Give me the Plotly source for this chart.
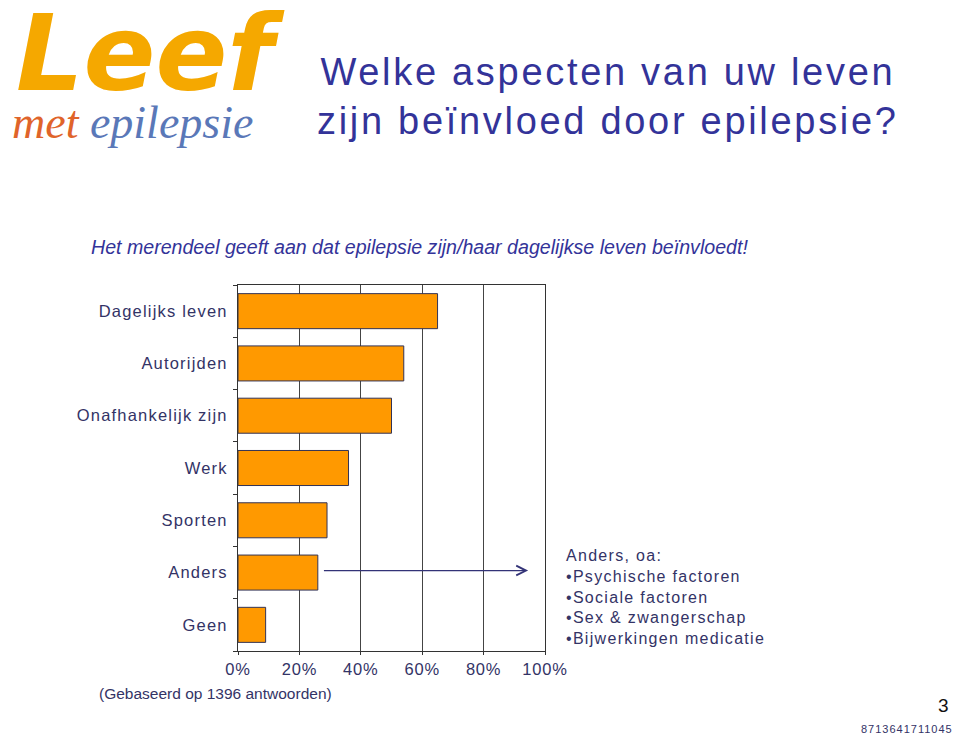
import plotly.graph_objects as go

categories = ["Dagelijks leven", "Autorijden", "Onafhankelijk zijn", "Werk", "Sporten", "Anders", "Geen"]
values = [65, 54, 50, 36, 29, 26, 9]
x_ticks = [0, 20, 40, 60, 80, 100]
x_tick_labels = ["0%", "20%", "40%", "60%", "80%", "100%"]
anders_items = ["Psychische factoren", "Sociale factoren", "Sex &amp; zwangerschap", "Bijwerkingen medicatie"]

NAVY = "#333366"
BLUE = "#333399"
FONT = "Liberation Sans, Arial, sans-serif"

# page body has an 8px offset; figure sized to fit the window
OFF = 8
W, H = 952, 727
L, R, T, B = 238 - OFF, W - (545 - OFF), 285 - OFF, H - (651 - OFF)
PW, PH = W - L - R, H - T - B


def px(xp):
    return (xp - OFF - L) / PW


def py(yp):
    return 1 - (yp - OFF - T) / PH


def spaced(s, ls):
    return "<span style='letter-spacing:%spx'>%s</span>" % (ls, s)


fig = go.Figure()
fig.add_trace(go.Bar(
    y=categories, x=values, orientation="h",
    marker=dict(color="#FF9900", line=dict(color="#333355", width=1)),
    width=0.67, hoverinfo="skip",
))

fig.update_layout(
    width=W, height=H, autosize=False,
    margin=dict(l=L, r=R, t=T, b=B),
    paper_bgcolor="white", plot_bgcolor="white",
    showlegend=False,
    font=dict(family=FONT, color=NAVY),
    xaxis=dict(
        range=[0, 100], tickmode="array", tickvals=x_ticks,
        ticktext=[spaced(t, 0.8) for t in x_tick_labels],
        showgrid=True, gridcolor="#444444", gridwidth=1,
        showline=True, linecolor="#333333", linewidth=1, mirror=True,
        ticks="outside", ticklen=3, tickcolor="#333333",
        tickfont=dict(size=16.5, color=NAVY, family=FONT),
        zeroline=False, fixedrange=True,
    ),
    yaxis=dict(
        categoryorder="array", categoryarray=categories, autorange="reversed",
        tickmode="array", tickvals=categories,
        ticktext=[spaced(c, 1.2) for c in categories],
        tickson="boundaries", ticks="outside", ticklen=4, tickcolor="#333333",
        showgrid=False, showline=True, linecolor="#333333", linewidth=1, mirror=True,
        tickfont=dict(size=16.5, color=NAVY, family=FONT),
        ticklabelstandoff=6, fixedrange=True,
    ),
)

# Arrow from Anders bar to the explanation box
fig.add_annotation(
    x=94.5, y="Anders", ax=27.5, ay="Anders", xref="x", yref="y", axref="x", ayref="y",
    text="", showarrow=True, arrowhead=5, arrowsize=1.6, arrowwidth=1.2, arrowcolor="#333377",
    yshift=2,
)

# Logo
fig.add_annotation(xref="paper", yref="paper", x=px(14), y=py(54),
                   xanchor="left", yanchor="middle", showarrow=False,
                   text="<b><i>Leef</i></b>",
                   font=dict(family="DejaVu Sans, sans-serif", size=106, color="#F5A800"))
fig.add_annotation(xref="paper", yref="paper", x=px(10), y=py(123),
                   xanchor="left", yanchor="middle", showarrow=False,
                   text="<i><span style='color:#E0642A'>met</span> epilepsie</i>",
                   font=dict(family="Liberation Serif, serif", size=46, color="#5A78B8"))

# Title
fig.add_annotation(xref="paper", yref="paper", x=px(608), y=py(97),
                   xanchor="center", yanchor="middle", showarrow=False,
                   text=spaced("Welke aspecten van uw leven", 2.7) + "<br>"
                   + spaced("zijn beïnvloed door epilepsie?", 2.7),
                   font=dict(family=FONT, size=38, color=BLUE))
# Subtitle
fig.add_annotation(xref="paper", yref="paper", x=px(89), y=py(247),
                   xanchor="left", yanchor="middle", showarrow=False,
                   text="<i>Het merendeel geeft aan dat epilepsie zijn/haar dagelijkse leven beïnvloedt!</i>",
                   font=dict(family=FONT, size=19.6, color=BLUE))

# Anders box text
box_lines = [spaced("Anders, oa:", 1.3)] + [spaced("•" + s, 1.3) for s in anders_items]
fig.add_annotation(xref="paper", yref="paper", x=px(564), y=py(597),
                   xanchor="left", yanchor="middle", showarrow=False, align="left",
                   text="<br>".join(box_lines),
                   font=dict(family=FONT, size=16, color=NAVY))

# Footnote
fig.add_annotation(xref="paper", yref="paper", x=px(97), y=py(693),
                   xanchor="left", yanchor="middle", showarrow=False,
                   text="(Gebaseerd op 1396 antwoorden)",
                   font=dict(family=FONT, size=15.5, color=NAVY))
# Page number
fig.add_annotation(xref="paper", yref="paper", x=px(951), y=py(705),
                   xanchor="right", yanchor="middle", showarrow=False,
                   text="3", font=dict(family=FONT, size=19, color="#111111"))
fig.add_annotation(xref="paper", yref="paper", x=px(955), y=py(729),
                   xanchor="right", yanchor="middle", showarrow=False,
                   text=spaced("8713641711045", 1), font=dict(family=FONT, size=11, color=NAVY))

fig.write_html("out.html")
